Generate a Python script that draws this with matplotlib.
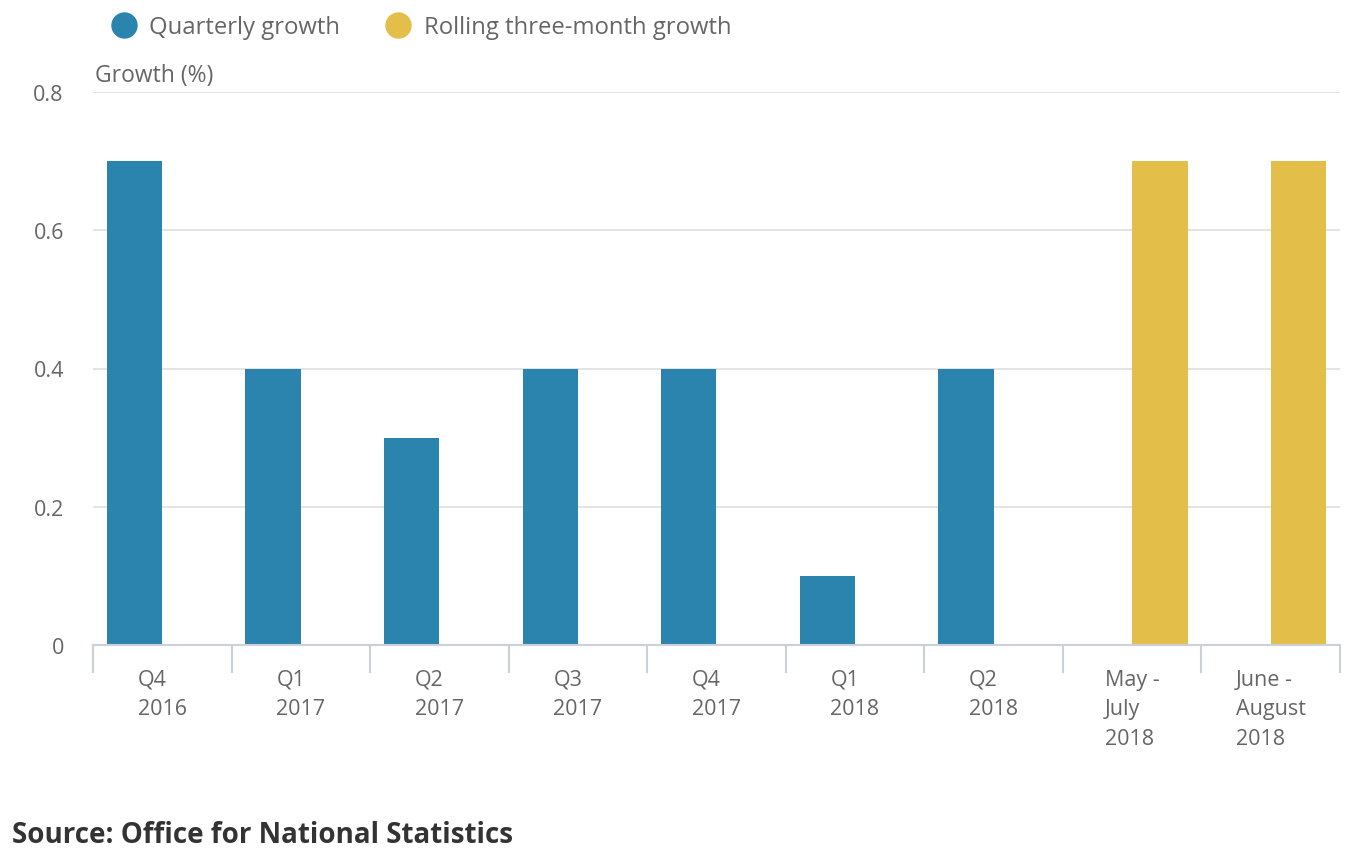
import matplotlib
matplotlib.use("Agg")
import matplotlib.pyplot as plt
from matplotlib.lines import Line2D
import numpy as np

categories = ["Q4\n2016", "Q1\n2017", "Q2\n2017", "Q3\n2017", "Q4\n2017",
              "Q1\n2018", "Q2\n2018", "May -\nJuly\n2018", "June -\nAugust\n2018"]
quarterly = [0.7, 0.4, 0.3, 0.4, 0.4, 0.1, 0.4, np.nan, np.nan]
rolling = [np.nan, np.nan, np.nan, np.nan, np.nan, np.nan, np.nan, 0.7, 0.7]
yticks = [0, 0.2, 0.4, 0.6, 0.8]
ytick_labels = ["0", "0.2", "0.4", "0.6", "0.8"]

blue = "#2a84ae"
yellow = "#e3bf4a"
text_grey = "#666666"

plt.rcParams["font.family"] = ["Open Sans", "DejaVu Sans"]

fig = plt.figure(figsize=(13.6, 8.62), dpi=100)
ax = fig.add_axes([93/1360, 1-646/862, (1340-93)/1360, (646-93)/862])

x = np.arange(len(categories))
w = 0.4
ax.bar(x - 0.2, quarterly, width=w, color=blue, zorder=3)
ax.bar(x + 0.2, rolling, width=w, color=yellow, zorder=3)

ax.set_xlim(-0.5, len(categories) - 0.5)
ax.set_ylim(0, 0.8)
ax.set_yticks(yticks)
ax.set_yticklabels(ytick_labels)
ax.yaxis.grid(True, color="#e2e2e2", linewidth=1.3, zorder=0)
ax.tick_params(axis="y", length=0, pad=21, labelsize=15.5, labelcolor=text_grey)

ax.set_xticks(x)
ax.set_xticklabels(categories, linespacing=1.55, multialignment="left")
ax.tick_params(axis="x", length=0, pad=17, labelsize=15.5, labelcolor=text_grey)
ax.set_xticks(np.arange(-0.5, len(categories) + 0.5, 1), minor=True)
ax.tick_params(axis="x", which="minor", length=20, width=1.5, color="#ccd0d8")

for s in ["top", "right", "left"]:
    ax.spines[s].set_visible(False)
ax.spines["bottom"].set_color("#ccd0d8")
ax.spines["bottom"].set_linewidth(1.5)
ax.spines["bottom"].set_zorder(4)

fig.text(95/1360, 1-76/862, "Growth (%)", fontsize=16.5, color=text_grey,
         ha="left", va="center")

handles = [Line2D([], [], marker="o", linestyle="none", markersize=18,
                  markerfacecolor=blue, markeredgecolor=blue),
           Line2D([], [], marker="o", linestyle="none", markersize=18,
                  markerfacecolor=yellow, markeredgecolor=yellow)]
leg = fig.legend(handles, ["Quarterly growth", "Rolling three-month growth"],
                 loc="center left", bbox_to_anchor=(88/1360, 1-28/862),
                 ncol=2, frameon=False, fontsize=17.2, handletextpad=0.45,
                 columnspacing=1.85, handlelength=1.2)
for t in leg.get_texts():
    t.set_color(text_grey)

fig.text(12/1360, 1-836/862, "Source: Office for National Statistics",
         fontsize=20, fontweight="bold", color="#333333", ha="left", va="center")

fig.savefig("out.png", dpi=100)
